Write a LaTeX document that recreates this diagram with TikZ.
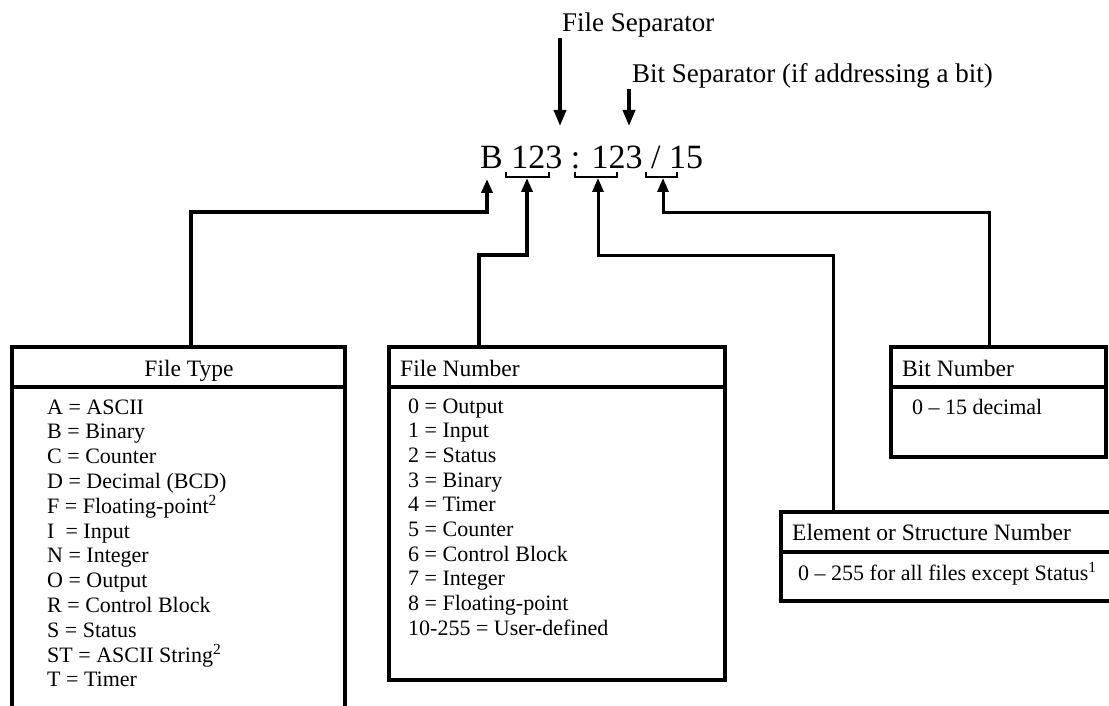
\documentclass[tikz,border=0pt]{standalone}
\usepackage{fontspec}
\setmainfont{Liberation Serif}
\usetikzlibrary{arrows.meta,calc}
\begin{document}
\begin{tikzpicture}[x=1pt,y=-1pt,
  boxpart/.style={draw,line width=3.8pt,anchor=north west,inner sep=0pt,rectangle},
  lbl/.style={inner sep=0pt,anchor=base west,font=\fontsize{27}{30}\selectfont},
  ttl/.style={inner sep=0pt,anchor=base west,font=\fontsize{23.5}{26}\selectfont},
  itm/.style={inner sep=0pt,anchor=base west,font=\fontsize{22}{25}\selectfont},
  conn/.style={line width=3.6pt,-{Triangle[length=14pt,width=11pt]}},
  connthin/.style={line width=3pt,-{Triangle[length=14pt,width=11pt]}},
  sep/.style={line width=3.6pt,-{Triangle[length=16pt,width=12pt]}},
  brk/.style={line width=2.2pt}]
\useasboundingbox (0,0) rectangle (1109,706);

% top labels and separator arrows
\node[lbl] (fs) at (562,32) {File Separator};
\node[lbl] (bs) at (632,83) {Bit Separator (if addressing a bit)};
\node[inner sep=0pt,anchor=base west,font=\fontsize{34}{40}\selectfont] (addr) at (480,168) {B 123 : 123 / 15};
\coordinate (fsS) at (560,38);
\coordinate (fsE) at (560,126);
\coordinate (bsS) at (629,89);
\coordinate (bsE) at (629,126);
\draw[sep] (fsS) -- (fsE);
\draw[sep] (bsS) -- (bsE);

% brackets
\draw[brk] (506,172) -- (506,177) -- (549,177) -- (549,172);
\draw[brk] (575,172) -- (575,177) -- (617,177) -- (617,172);
\draw[brk] (646,172) -- (646,177) -- (677,177) -- (677,172);
\coordinate (tB) at (487,179);
\coordinate (t1) at (527,178);
\coordinate (t2) at (598,178);
\coordinate (t3) at (663,178);
\coordinate (jB) at (487,212);
\coordinate (j1) at (527,255);
\coordinate (j2) at (598,255);
\coordinate (j3) at (663,212);

% File Type box
\node[boxpart,minimum width=333,minimum height=40] (ftt) at (10,345) {};
\node[boxpart,minimum width=333,minimum height=400] (ftb) at (10,385) {};
\node[ttl,anchor=base] (ftl) at (189,376) {File Type};
\foreach \t [count=\i] in {A = ASCII,B = Binary,C = Counter,D = Decimal (BCD),F = Floating-point\textsuperscript{2},I \ = Input,N = Integer,O = Output,R = Control Block,S = Status,ST = ASCII String\textsuperscript{2},T = Timer}
  \node[itm] (fti\i) at (47,{414+24.8*(\i-1)}) {\t};

% File Number box
\node[boxpart,minimum width=336,minimum height=40] (fnt) at (387,345) {};
\node[boxpart,minimum width=336,minimum height=293] (fnb) at (387,385) {};
\node[ttl] (fnl) at (400,376) {File Number};
\foreach \t [count=\i] in {0 = Output,1 = Input,2 = Status,3 = Binary,4 = Timer,5 = Counter,6 = Control Block,7 = Integer,8 = Floating-point,10-255 = User-defined}
  \node[itm] (fni\i) at (408,{413+24.7*(\i-1)}) {\t};

% Bit Number box
\node[boxpart,minimum width=215,minimum height=40] (bnt) at (889,345) {};
\node[boxpart,minimum width=215,minimum height=70] (bnb) at (889,385) {};
\node[ttl] (bnl) at (902,376) {Bit Number};
\node[itm] (bni) at (912,414) {0 -- 15 decimal};

% Element box
\node[boxpart,minimum width=345,minimum height=40] (elt) at (779,510) {};
\node[boxpart,minimum width=345,minimum height=49] (elb) at (779,550) {};
\node[ttl] (ell) at (792,540) {Element or Structure Number};
\node[itm] (eli) at (798,580) {0 -- 255 for all files except Status\textsuperscript{1}};

% connectors
\draw[conn] ([xshift=12.5pt]ftt.north) |- (jB) -- (tB);
\draw[conn] ([xshift=92pt]fnt.north west) |- (j1) -- (t1);
\draw[connthin] ([xshift=54pt]elt.north west) |- (j2) -- (t2);
\draw[connthin] ([xshift=100pt]bnt.north west) |- (j3) -- (t3);
\end{tikzpicture}
\end{document}
